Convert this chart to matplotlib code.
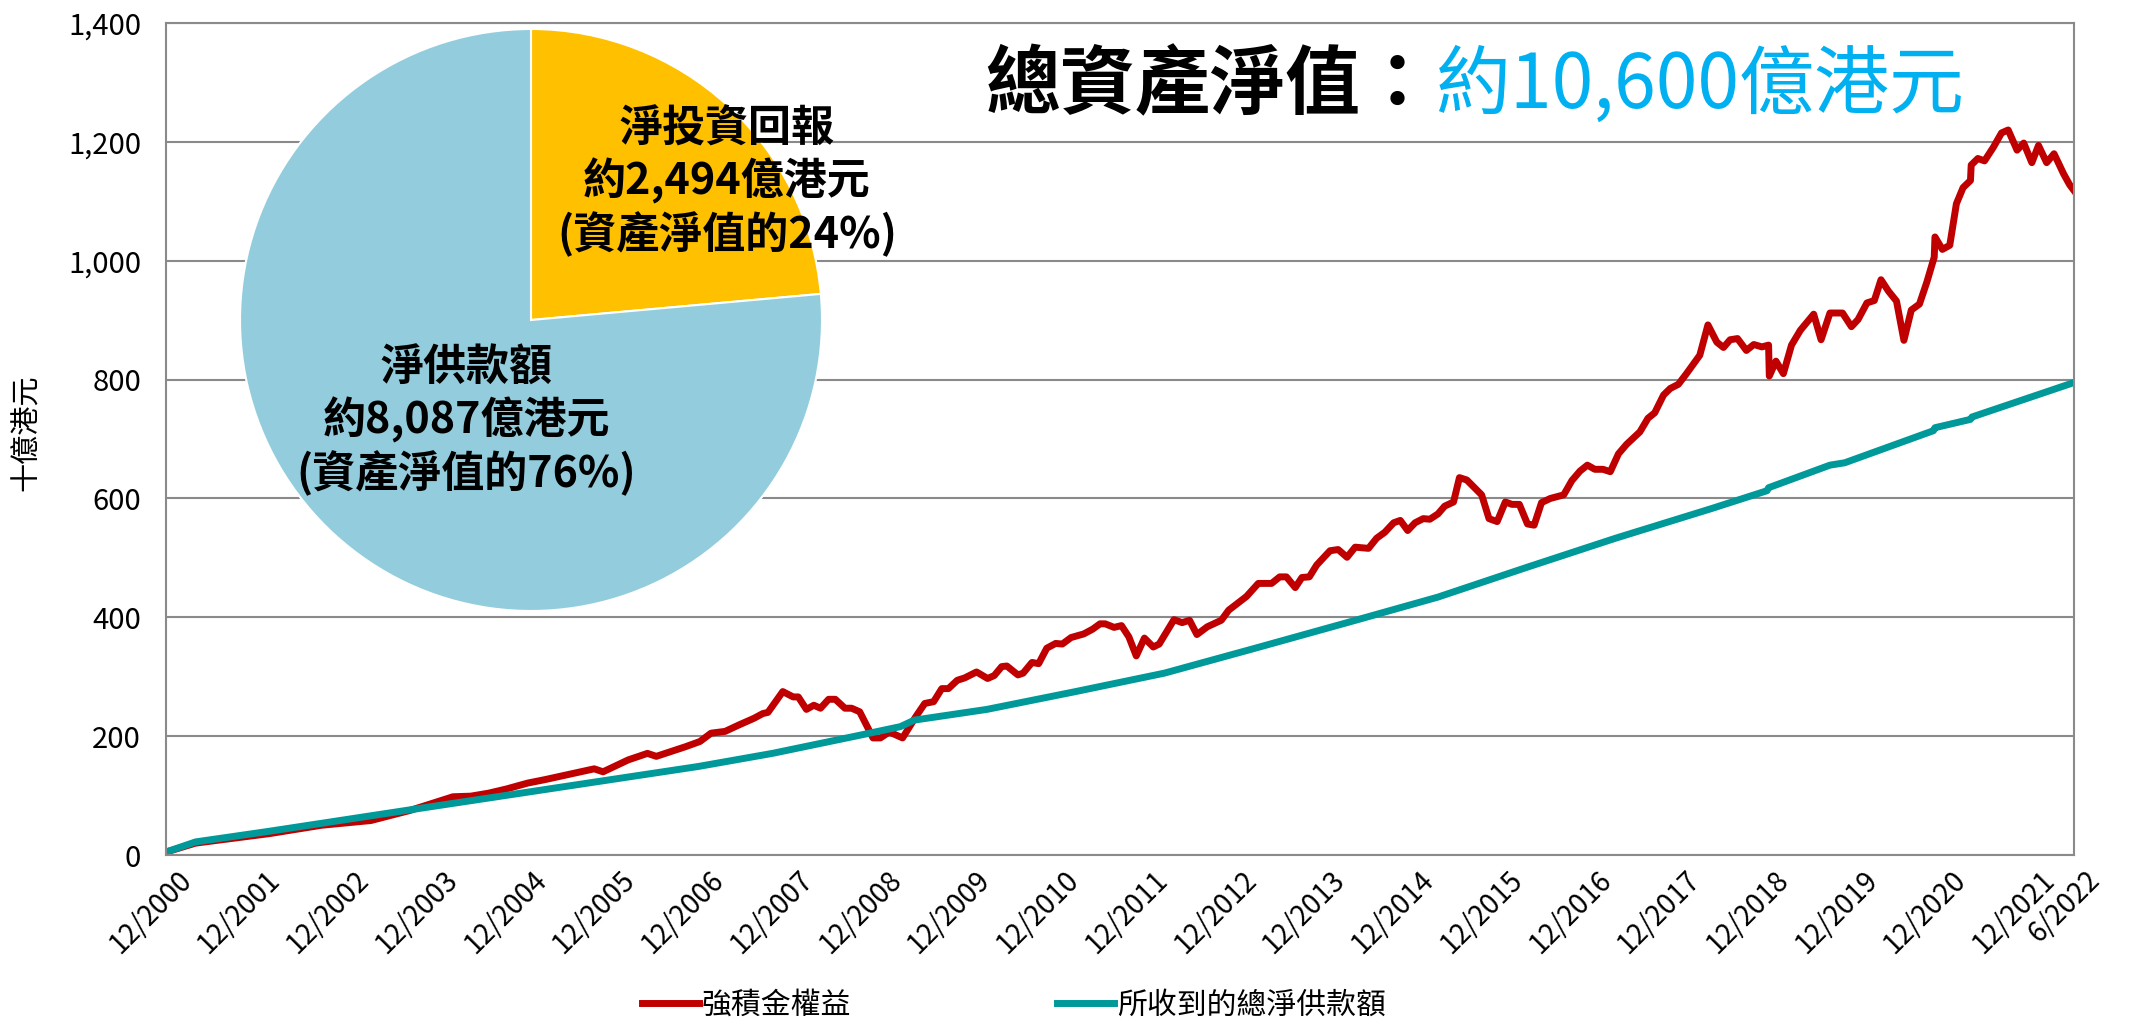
import matplotlib
matplotlib.use("Agg")
import matplotlib.pyplot as plt
from matplotlib.ticker import FuncFormatter
from matplotlib.transforms import ScaledTranslation

plt.rcParams["font.family"] = ["Noto Sans CJK TC", "DejaVu Sans"]

# x values are months counted from 12/2000
equity_months = [
    0, 4, 14, 21, 27.7, 33, 38.8, 41.2, 43.6, 46, 48.9, 51.3, 57.9, 59.1, 62.5, 65.1, 66.3, 70.2,
    72.2, 73.7, 75.6, 77.5, 79.5, 80.7, 81.4, 83.4, 84.8, 85.5, 86.6, 87.6, 88.5, 89.6, 90.5,
    91.8, 92.7, 93.8, 95.6, 96.6, 97.8, 99.6, 101.4, 102.6, 103.8, 104.9, 105.8, 107, 108,
    109.6, 111.1, 112, 113, 113.7, 115.2, 115.9, 117.1, 118, 119.1, 120.3, 121.2, 122.4, 124.1,
    125.3, 126.3, 127, 128.2, 129.2, 130.2, 131.2, 132.3, 133.5, 134.3, 136.3, 137.4, 138.4,
    139.4, 140.8, 142, 142.7, 143.7, 146.1, 147.7, 149.5, 150.6, 151.5, 152.7, 153.6, 154.6,
    155.6, 157.4, 158.5, 159.7, 160.8, 162.6, 163.7, 164.8, 166, 166.9, 167.9, 168.9, 170,
    170.9, 172, 172.9, 174.1, 174.9, 175.9, 177.9, 178.9, 180, 181.1, 182, 183, 184.1, 185,
    186, 187.2, 189, 190.1, 191.2, 192.2, 193.2, 194.3, 195.3, 196.4, 197.5, 199.3, 200.4,
    201.3, 202.5, 203.4, 204.5, 205.6, 207.4, 208.5, 209.7, 210.6, 211.5, 212.5, 213.7, 214.7,
    215.8, 216.7, 216.8, 217.7, 218.7, 219.8, 221, 222.8, 223.8, 225, 226.7, 227.9, 228.8,
    230, 231, 231.9, 232.9, 234, 235, 236, 237.1, 238.1, 239.1, 239.2, 240.2, 241.2, 242.1,
    243, 244, 244.1, 245, 245.9, 247.1, 248.2, 249.1, 250.3, 251.2, 252.3, 253.2, 254.3,
    255.3, 256.6, 257.4, 258,
]
equity_values = [
    5, 20, 36, 50, 58, 75, 98, 99, 104, 111, 121, 127, 145, 140, 160, 171, 166, 182,
    191, 205, 208, 219, 230, 238, 240, 275, 266, 266, 245, 252, 247, 262, 262,
    247, 247, 241, 197, 197, 207, 197, 233, 255, 258, 280, 280, 294, 298,
    308, 297, 302, 317, 318, 303, 306, 324, 322, 348, 356, 355, 366, 372,
    380, 389, 389, 383, 386, 367, 335, 365, 350, 355, 396, 391, 395,
    371, 384, 391, 395, 412, 435, 457, 457, 468, 468, 450, 467, 468,
    488, 512, 514, 501, 518, 516, 533, 543, 559, 563, 546, 559, 566,
    565, 574, 587, 594, 635, 631, 606, 566, 561, 594, 590, 590, 557, 555,
    593, 600, 606, 630, 646, 656, 649, 649, 645, 675, 691, 712, 735,
    744, 774, 785, 792, 810, 841, 892, 863, 854, 867, 869, 849, 859,
    855, 858, 806, 831, 810, 858, 883, 910, 867, 912, 912, 889, 901,
    929, 933, 968, 949, 932, 866, 917, 927, 964, 1006, 1040, 1019, 1026, 1096,
    1123, 1135, 1161, 1172, 1168, 1191, 1215, 1220, 1186, 1198, 1165, 1194, 1165,
    1180, 1146, 1128, 1118,
]

contrib_months = [
    0, 4, 14, 33, 72, 82, 94, 99.3, 101.2, 111, 123, 135, 147, 160, 172, 184, 196, 209,
    216.5, 216.7, 225, 227, 239, 239.2, 244, 244.2, 258,
]
contrib_values = [
    5, 22, 40, 76, 149, 171, 202, 216, 227, 245, 275, 306, 347, 392, 434, 484, 533, 583,
    613, 618, 656, 660, 714, 719, 733, 737, 795,
]

tick_months = list(range(0, 253, 12)) + [258]
tick_labels = [f"12/{year}" for year in range(2000, 2022)] + ["6/2022"]

pie_values = [2494, 8087]
pie_colors = ["#FFC000", "#93CDDD"]
pie_texts = ["淨投資回報\n約2,494億港元\n(資產淨值的24%)", "淨供款額\n約8,087億港元\n(資產淨值的76%)"]

W, H = 2136, 1022
fig = plt.figure(figsize=(W / 100, H / 100), dpi=100)

ax = fig.add_axes([166 / W, 1 - 855 / H, (2074 - 166) / W, (855 - 23) / H])
ax.plot(equity_months, equity_values, color="#C00000", lw=5, solid_joinstyle="round",
        label="強積金權益")
ax.plot(contrib_months, contrib_values, color="#009999", lw=5, solid_joinstyle="round",
        label="所收到的總淨供款額")

ax.set_xlim(0, 258)
ax.set_ylim(0, 1400)
ax.set_yticks(range(0, 1401, 200))
ax.yaxis.set_major_formatter(FuncFormatter(lambda v, _: f"{v:,.0f}"))
ax.grid(True, axis="y", color="#8A8A8A", lw=1.5)
ax.set_axisbelow(True)
for spine in ax.spines.values():
    spine.set_color("#8A8A8A")
    spine.set_linewidth(1.5)
ax.tick_params(length=0, labelsize=21, pad=18)
ax.tick_params(axis="x", pad=15)
ax.set_xticks(tick_months)
ax.set_xticklabels(tick_labels, rotation=45, ha="right", va="center", rotation_mode="anchor",
                   fontsize=20)
shift = ScaledTranslation(0.21, 0, fig.dpi_scale_trans)
for lbl in ax.get_xticklabels():
    lbl.set_transform(lbl.get_transform() + shift)

fig.text(27 / W, 1 - 433 / H, "十億港元", rotation=90, ha="center", va="center", fontsize=21)

# pie inset
cx, cy, r = 531, 320, 291
ax_pie = fig.add_axes([(cx - r) / W, 1 - (cy + r) / H, 2 * r / W, 2 * r / H])
ax_pie.pie(pie_values, colors=pie_colors, startangle=90, counterclock=False,
           wedgeprops=dict(edgecolor="white", linewidth=1.5))
ax_pie.set_xlim(-1, 1)
ax_pie.set_ylim(-1, 1)
ax_pie.axis("off")
ax_pie.text((727 - cx) / r, (cy - 182) / r, pie_texts[0], ha="center", va="center",
            fontsize=31, fontweight="semibold", linespacing=1.2)
ax_pie.text((466 - cx) / r, (cy - 421) / r, pie_texts[1], ha="center", va="center",
            fontsize=31, fontweight="semibold", linespacing=1.2)

# headline
t1 = fig.text(985 / W, 1 - 86 / H, "總資產淨值：", ha="left", va="center", fontsize=54,
              fontweight="bold", color="black")
fig.canvas.draw()
bb = t1.get_window_extent(renderer=fig.canvas.get_renderer())
fig.text(bb.x1 / W, 1 - 86 / H, "約10,600億港元", ha="left", va="center", fontsize=54,
         fontweight="medium", color="#00B0F0")

fig.legend(loc="center", bbox_to_anchor=(1014 / W, 1 - 1005 / H), ncol=2, frameon=False,
           fontsize=21.5, handlelength=1.9, handletextpad=0.1, columnspacing=6.9)

fig.savefig("out.png", dpi=100)
